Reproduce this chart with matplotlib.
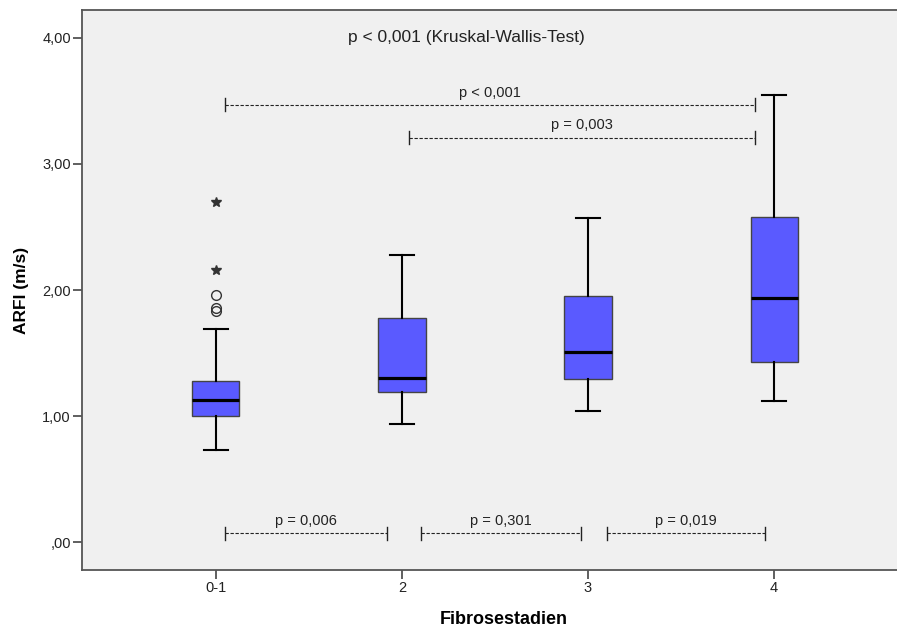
import numpy as np
import matplotlib.pyplot as plt

plt.rcParams['font.family'] = ['Liberation Sans', 'DejaVu Sans']

# box values
stadien = ['0-1', '2', '3', '4']
whisk_lo = [0.73, 0.94, 1.04, 1.12]
q1 = [1.00, 1.19, 1.29, 1.43]
median = [1.13, 1.30, 1.51, 1.94]
q3 = [1.28, 1.78, 1.95, 2.58]
whisk_hi = [1.69, 2.28, 2.57, 3.55]
ausreisser = [[1.96, 1.86, 1.83], [], [], []]   # circles
extrem = [[2.70, 2.16], [], [], []]             # stars

# pairwise tests
paar_links = [0.05, 1.10, 2.10, 0.05, 1.04]
paar_rechts = [0.92, 1.96, 2.95, 2.90, 2.90]
paar_y = [0.07, 0.07, 0.07, 3.47, 3.21]
paar_p = ['p = 0,006', 'p = 0,301', 'p = 0,019', 'p < 0,001', 'p = 0,003']

ytick_pos = [0, 1, 2, 3, 4]
ytick_lab = [',00', '1,00', '2,00', '3,00', '4,00']

fig = plt.figure(figsize=(8.97, 6.3), dpi=100)
ax = fig.add_axes([82/897, 60/630, 826/897, 560/630])
ax.set_facecolor('#f0f0f0')

stats = []
for i in range(len(stadien)):
    stats.append(dict(whislo=whisk_lo[i], q1=q1[i], med=median[i], q3=q3[i],
                      whishi=whisk_hi[i], fliers=ausreisser[i]))

pos = np.arange(len(stadien))
ax.bxp(stats, positions=pos, widths=0.253, capwidths=0.125, patch_artist=True,
       boxprops=dict(facecolor='#5a5aff', edgecolor='#444444', lw=1.0),
       medianprops=dict(color='black', lw=2.3),
       whiskerprops=dict(color='black', lw=1.5),
       capprops=dict(color='black', lw=1.5),
       flierprops=dict(marker='o', mfc='none', mec='#333333', ms=7, mew=1.0))

for i in range(len(stadien)):
    if extrem[i]:
        ax.plot([pos[i]]*len(extrem[i]), extrem[i], ls='none', marker='*',
                color='#333333', ms=7)

# brackets
for l, r, y, p in zip(paar_links, paar_rechts, paar_y, paar_p):
    ax.plot([l, r], [y, y], ls=(0, (3, 1.5)), lw=0.8, color='#222222')
    ax.plot([l, l], [y-0.05, y+0.05], lw=1.0, color='#222222')
    ax.plot([r, r], [y-0.05, y+0.05], lw=1.0, color='#222222')
    ax.text((l+r)/2, y+0.04, p, ha='center', va='bottom', fontsize=10.5, color='#222222')

ax.text(1.344, 4.0, 'p < 0,001 (Kruskal-Wallis-Test)', ha='center', va='center',
        fontsize=12.5, color='#222222')

ax.set_xlim(-0.72, 3.72)
ax.set_ylim(-0.222, 4.222)
ax.set_xticks(pos)
ax.set_xticklabels(stadien)
ax.set_yticks(ytick_pos)
ax.set_yticklabels(ytick_lab)
ax.tick_params(direction='out', length=6.5, width=1.2, color='#444444',
               labelsize=10.5, labelcolor='#222222', pad=1.5)

for s in ['left', 'top', 'bottom']:
    ax.spines[s].set_color('#555555')
    ax.spines[s].set_linewidth(1.3)
ax.spines['right'].set_visible(False)

ax.set_ylabel('ARFI (m/s)', fontsize=12.5, fontweight='bold')
ax.set_xlabel('Fibrosestadien', fontsize=13, fontweight='bold')
ax.yaxis.label.set_va('center')
ax.xaxis.label.set_va('center')
ax.yaxis.set_label_coords(-0.073, 0.5)
ax.xaxis.set_label_coords(0.51, -0.089)

plt.savefig('out.png', dpi=100)
